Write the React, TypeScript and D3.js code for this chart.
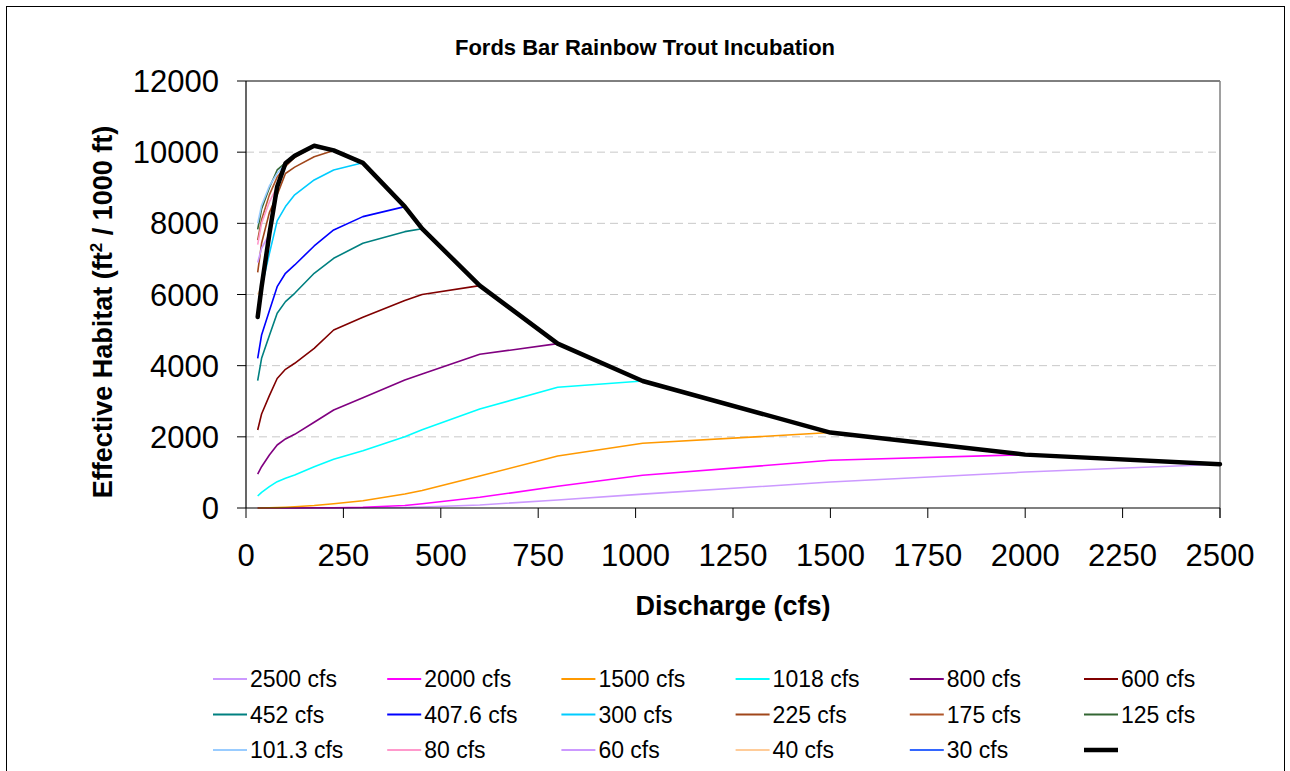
import React from "react";
import * as d3 from "d3";

const flows = [30, 40, 60, 80, 101.3, 125, 175, 225, 300, 407.6, 452, 600, 800, 1018, 1500, 2000, 2500];

const seriesNames = ["2500 cfs", "2000 cfs", "1500 cfs", "1018 cfs", "800 cfs", "600 cfs", "452 cfs", "407.6 cfs", "300 cfs", "225 cfs", "175 cfs", "125 cfs", "101.3 cfs", "80 cfs", "60 cfs", "40 cfs", "30 cfs", ""];

const s2500 = [0, 0, 0, 0, 0, 0, 0, 0, 5, 15, 30, 85, 225, 390, 730, 1010, 1230];
const s2000 = [0, 0, 0, 0, 0, 2, 5, 8, 20, 70, 120, 300, 610, 920, 1340, 1500];
const s1500 = [0, 2, 5, 10, 20, 35, 70, 120, 205, 393, 490, 900, 1460, 1818, 2120];
const s1018 = [337, 441, 600, 740, 835, 927, 1160, 1369, 1610, 2004, 2200, 2782, 3392, 3570];
const s800 = [955, 1160, 1490, 1771, 1940, 2071, 2409, 2754, 3100, 3597, 3766, 4319, 4620];
const s600 = [2192, 2640, 3157, 3640, 3898, 4067, 4488, 5003, 5360, 5830, 6000, 6250];
const s452 = [3578, 4207, 4845, 5472, 5799, 6034, 6596, 7018, 7440, 7766, 7850];
const s4076 = [4207, 4862, 5546, 6220, 6596, 6830, 7364, 7813, 8188, 8470];
const s300 = [5450, 6200, 7150, 8070, 8470, 8800, 9220, 9500, 9700];
const s225 = [6620, 7440, 8300, 8800, 9400, 9580, 9870, 10050];
const s175 = [7530, 8100, 8800, 9300, 9600, 9850, 10180];
const s125 = [7830, 8400, 9000, 9500, 9700, 9900];
const s1013 = [8000, 8500, 9050, 9400, 9690];
const s80 = [7400, 8000, 8600, 9030];
const s60 = [6900, 7300, 7700];
const s40 = [6000, 6215];
const s30 = [5370];
const envelope = [5370, 6215, 7700, 9030, 9690, 9900, 10180, 10050, 9700, 8470, 7850, 6250, 4620, 3570, 2120, 1500, 1230];

const seriesValues = [s2500, s2000, s1500, s1018, s800, s600, s452, s4076, s300, s225, s175, s125, s1013, s80, s60, s40, s30, envelope];
const seriesColors = ["#CC99FF", "#FF00FF", "#FF9900", "#00FFFF", "#800080", "#800000", "#008080", "#0000FF", "#00CCFF", "#A0461A", "#B0562A", "#336633", "#99CCFF", "#FF99CC", "#CC99FF", "#FFCC99", "#3366FF", "#000000"];

const yTicks = [0, 2000, 4000, 6000, 8000, 10000, 12000];
const xTicks = [0, 250, 500, 750, 1000, 1250, 1500, 1750, 2000, 2250, 2500];

const FONT = "'Liberation Sans', Arial, sans-serif";

export default function App() {
  const x = d3.scaleLinear().domain([0, 2500]).range([246, 1220]);
  const y = d3.scaleLinear().domain([0, 12000]).range([508, 81]);
  const line = d3
    .line<[number, number]>()
    .x((d) => x(d[0]))
    .y((d) => y(d[1]));

  return (
    <svg
      width={1290}
      height={771}
      style={{ position: "absolute", left: 0, top: 0, background: "#fff" }}
      fontFamily={FONT}
    >
      <rect x={0} y={0} width={1290} height={771} fill="#fff" />
      <rect x={6.5} y={6.5} width={1278} height={780} fill="none" stroke="#000" strokeWidth={1} />

      <text x={645} y={55} textAnchor="middle" fontSize={22} fontWeight="bold">
        Fords Bar Rainbow Trout Incubation
      </text>

      {/* gridlines */}
      {yTicks
        .filter((t) => t > 0 && t < 12000)
        .map((t) => (
          <line
            key={"g" + t}
            x1={x(0)}
            x2={x(2500)}
            y1={y(t)}
            y2={y(t)}
            stroke="#C8C8C8"
            strokeWidth={1}
            strokeDasharray="8,5"
          />
        ))}

      {/* plot frame */}
      <line x1={x(0)} x2={x(2500)} y1={y(12000)} y2={y(12000)} stroke="#000" strokeWidth={1} />
      <line x1={x(2500)} x2={x(2500)} y1={y(12000)} y2={y(0) + 10} stroke="#808080" strokeWidth={1.5} />

      {/* series */}
      {seriesValues.map((vals, i) => {
        const pts: [number, number][] = vals.map((v, j) => [flows[j], v]);
        const isEnv = i === seriesValues.length - 1;
        return (
          <path
            key={"s" + i}
            d={line(pts) || ""}
            fill="none"
            stroke={seriesColors[i]}
            strokeWidth={isEnv ? 4.5 : 1.6}
            strokeLinejoin="round"
            strokeLinecap={isEnv ? "round" : "butt"}
          />
        );
      })}

      {/* axes */}
      <line x1={x(0)} x2={x(0)} y1={y(12000)} y2={y(0)} stroke="#000" strokeWidth={1.2} />
      <line x1={x(0)} x2={x(2500)} y1={y(0)} y2={y(0)} stroke="#000" strokeWidth={1.2} />
      {yTicks.map((t) => (
        <g key={"yt" + t}>
          <line x1={x(0) - 9} x2={x(0)} y1={y(t)} y2={y(t)} stroke="#000" strokeWidth={1} />
          <text x={219} y={y(t) + 11} textAnchor="end" fontSize={31}>
            {t}
          </text>
        </g>
      ))}
      {xTicks.map((t) => (
        <g key={"xt" + t}>
          <line x1={x(t)} x2={x(t)} y1={y(0)} y2={y(0) + 10} stroke="#000" strokeWidth={1} />
          <text x={x(t)} y={566} textAnchor="middle" fontSize={31}>
            {t}
          </text>
        </g>
      ))}

      <text x={733} y={615} textAnchor="middle" fontSize={27} fontWeight="bold">
        Discharge (cfs)
      </text>
      <text
        transform={`translate(112, 312) rotate(-90)`}
        textAnchor="middle"
        fontSize={27}
        fontWeight="bold"
      >
        Effective Habitat (ft<tspan dy={-10} fontSize={17}>2</tspan>
        <tspan dy={10}> / 1000 ft)</tspan>
      </text>

      {/* legend */}
      {seriesNames.map((name, i) => {
        const col = i % 6;
        const row = Math.floor(i / 6);
        const lx = 213 + col * 174.2;
        const ly = 679 + row * 35.5;
        const isEnv = i === seriesNames.length - 1;
        return (
          <g key={"lg" + i}>
            <line
              x1={lx}
              x2={lx + 34}
              y1={ly}
              y2={ly}
              stroke={seriesColors[i]}
              strokeWidth={isEnv ? 4.5 : 2}
            />
            {name && (
              <text x={lx + 37} y={ly + 8} fontSize={23}>
                {name}
              </text>
            )}
          </g>
        );
      })}
    </svg>
  );
}
